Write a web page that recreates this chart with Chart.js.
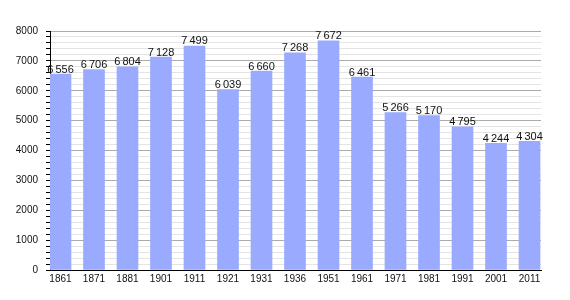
<!DOCTYPE html>
<html>
<head>
<meta charset="utf-8">
<script src="https://cdn.jsdelivr.net/npm/chart.js@4/dist/chart.umd.min.js"></script>
<style>
  html, body { margin: 0; padding: 0; background: #fff; }
  #wrap { width: 570px; height: 300px; position: relative; }
</style>
</head>
<body>
<div id="wrap"><canvas id="c" width="570" height="300"></canvas></div>
<script>
const years = ['1861','1871','1881','1901','1911','1921','1931','1936','1951','1961','1971','1981','1991','2001','2011'];
const population = [6556, 6706, 6804, 7128, 7499, 6039, 6660, 7268, 7672, 6461, 5266, 5170, 4795, 4244, 4304];
const yTicksMajor = [0, 1000, 2000, 3000, 4000, 5000, 6000, 7000, 8000];

function fmt(v) {
  const s = String(v);
  return s.length > 3 ? s.slice(0, s.length - 3) + '\u2009' + s.slice(-3) : s;
}

const valueLabels = {
  id: 'valueLabels',
  afterDatasetsDraw(chart) {
    const ctx = chart.ctx;
    const meta = chart.getDatasetMeta(0);
    ctx.save();
    ctx.font = '11px "Liberation Sans", Arial, sans-serif';
    ctx.fillStyle = '#111';
    ctx.textAlign = 'center';
    ctx.textBaseline = 'bottom';
    meta.data.forEach((bar, i) => {
      ctx.fillText(fmt(population[i]), bar.x, bar.y + 1);
    });
    ctx.restore();
  }
};

new Chart(document.getElementById('c'), {
  type: 'bar',
  data: {
    datasets: [{
      data: population.map((v, i) => ({ x: i, y: v })),
      backgroundColor: '#99aaff',
      borderWidth: 0,
      barThickness: 21
    }]
  },
  options: {
    responsive: false,
    animation: false,
    events: [],
    layout: { padding: { top: 31, right: 29, left: 0, bottom: 0 } },
    plugins: { legend: { display: false }, tooltip: { enabled: false } },
    scales: {
      x: {
        type: 'linear',
        offset: false,
        min: -0.313,
        max: 14.343,
        afterBuildTicks(scale) { scale.ticks = years.map((_, i) => ({ value: i })); },
        afterFit(scale) { scale.height = 30; },
        grid: { display: false, drawTicks: false },
        border: { display: true, color: '#000', width: 1 },
        ticks: {
          autoSkip: false,
          maxRotation: 0,
          padding: 3,
          color: '#111',
          font: { family: '"Liberation Sans", Arial, sans-serif', size: 10 },
          callback: (v) => years[v]
        }
      },
      y: {
        min: 0,
        max: 8000,
        afterFit(scale) { scale.width = 50; },
        ticks: {
          stepSize: 200,
          autoSkip: false,
          padding: 8,
          color: '#111',
          font: { family: '"Liberation Sans", Arial, sans-serif', size: 10 },
          callback: (v) => (yTicksMajor.includes(v) ? String(v) : '')
        },
        grid: {
          color: (c) => (c.tick && c.tick.value % 1000 === 0 ? '#ababab' : '#e4e4e4'),
          tickColor: '#000',
          tickLength: 4,
          lineWidth: 1
        },
        border: { display: true, color: '#000', width: 1 }
      }
    }
  },
  plugins: [valueLabels]
});
</script>
</body>
</html>
